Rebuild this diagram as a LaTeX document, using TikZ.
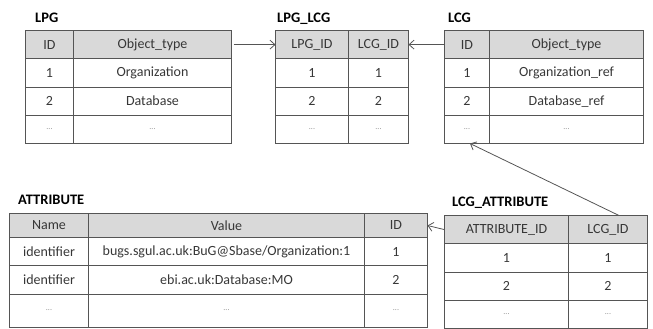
\documentclass[tikz,border=0pt]{standalone}
\usepackage{fontspec}
\setmainfont{Carlito}
\usepackage{tikz}
\usetikzlibrary{matrix, positioning, arrows.meta}
\definecolor{linegray}{RGB}{85,85,85}
\definecolor{headgray}{RGB}{217,217,217}
\definecolor{textgray}{RGB}{55,55,55}
\definecolor{dotgray}{RGB}{140,140,140}
\newcommand{\more}{{\color{dotgray}\footnotesize ...}}
\tikzset{>={Straight Barb[length=5pt,width=9pt]}, x=1pt, y=-1pt,
  tbl/.style={matrix of nodes, nodes in empty cells, anchor=north west,
    inner sep=0pt, outer sep=0pt, column sep=-1pt, row sep=-1pt,
    nodes={draw=linegray, line width=1pt, inner sep=0pt, anchor=center,
      minimum height=28.25pt, text=textgray, font=\fontsize{14}{16}\selectfont},
    row 1/.style={nodes={fill=headgray}}},
  tlabel/.style={font=\bfseries\fontsize{14.5}{16}\selectfont, inner sep=0pt},
  link/.style={->, draw=linegray, line width=0.8pt}}
\begin{document}
\begin{tikzpicture}
\useasboundingbox (0,0) rectangle (653,329);
% upper tables
\matrix[tbl, column 1/.style={nodes={minimum width=48pt}},
  column 2/.style={nodes={minimum width=158pt}}] (lpg) at (25,30) {
  ID & Object\_type \\
  1 & Organization \\
  2 & Database \\
  \more & \more \\
};
\matrix[tbl, column 1/.style={nodes={minimum width=73pt}},
  column 2/.style={nodes={minimum width=60pt}}] (lpglcg) at (275,30) {
  LPG\_ID & LCG\_ID \\
  1 & 1 \\
  2 & 2 \\
  \more & \more \\
};
\matrix[tbl, column 1/.style={nodes={minimum width=45pt}},
  column 2/.style={nodes={minimum width=154pt}}] (lcg) at (444,30) {
  ID & Object\_type \\
  1 & Organization\_ref \\
  2 & Database\_ref \\
  \more & \more \\
};
% lower tables
\matrix[tbl, column 1/.style={nodes={minimum width=79pt}},
  column 2/.style={nodes={minimum width=276pt}},
  column 3/.style={nodes={minimum width=63pt}},
  row 1/.style={nodes={fill=headgray, minimum height=24pt}},
  row 4/.style={nodes={minimum height=33pt}}] (attr) at (9,213) {
  Name & Value & ID \\
  identifier & bugs.sgul.ac.uk:BuG@Sbase/Organization:1 & 1 \\
  identifier & ebi.ac.uk:Database:MO & 2 \\
  \more & \more & \more \\
};
\matrix[tbl, column 1/.style={nodes={minimum width=124pt}},
  column 2/.style={nodes={minimum width=79pt}}] (lcgattr) at (444,215) {
  ATTRIBUTE\_ID & LCG\_ID \\
  1 & 1 \\
  2 & 2 \\
  \more & \more \\
};
% table names
\node[tlabel, above right=7pt and 10pt of lpg.north west, anchor=base west] (lpgname) {LPG};
\node[tlabel, above right=7pt and 2pt of lpglcg.north west, anchor=base west] (lpglcgname) {LPG\_LCG};
\node[tlabel, above right=7pt and 4pt of lcg.north west, anchor=base west] (lcgname) {LCG};
\node[tlabel, above right=9pt and 9pt of attr.north west, anchor=base west] (attrname) {ATTRIBUTE};
\node[tlabel, above right=9pt and 8pt of lcgattr.north west, anchor=base west] (lcgattrname) {LCG\_ATTRIBUTE};
% links
\draw[link, shorten <=2pt] (lpg-1-2.east) -- (lpglcg-1-1.west);
\draw[link] (lcg-1-1.west) -- (lpglcg-1-2.east);
\draw[link] (lcgattr-1-1.west) -- (attr-1-3.east);
\draw[link] ([xshift=11pt]lcgattr-1-2.north) -- ([xshift=3pt]lcg-4-1.south);
\end{tikzpicture}
\end{document}
